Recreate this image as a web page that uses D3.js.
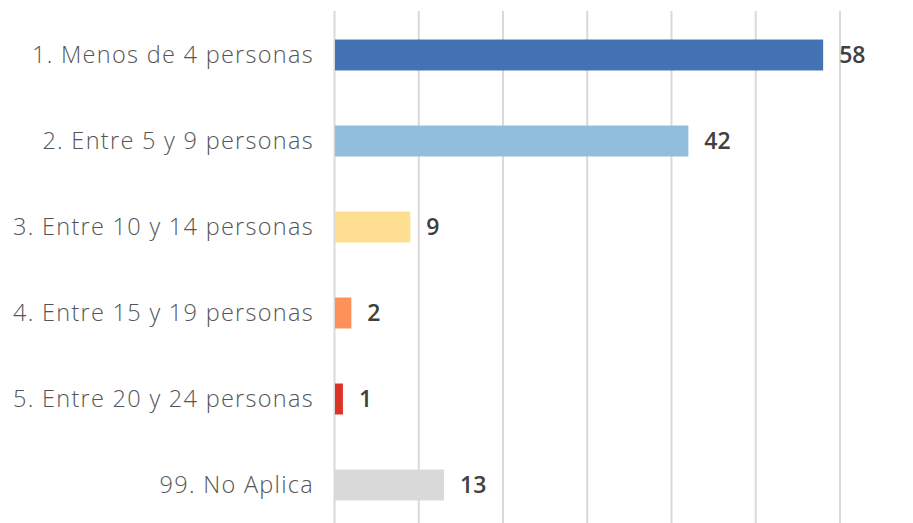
<!DOCTYPE html>
<html>
<head>
  <meta charset="UTF-8">
  <style>
    body { margin: 0; background: #fff; }
    svg { display: block; }
  </style>
</head>
<body>
  <script src="https://d3js.org/d3.v7.min.js"></script>
  <script>
    var categorias = ["1. Menos de 4 personas", "2. Entre 5 y 9 personas", "3. Entre 10 y 14 personas",
                      "4. Entre 15 y 19 personas", "5. Entre 20 y 24 personas", "99. No Aplica"];
    var valores = [58, 42, 9, 2, 1, 13];
    var colores = ["#4473b4", "#91bedc", "#fedf91", "#fc9159", "#dc3327", "#d9d9d9"];
    var ticks = [0, 10, 20, 30, 40, 50, 60];

    var width = 913, height = 523;

    var svg = d3.select("body").append("svg")
      .attr("width", width)
      .attr("height", height);

    var x = d3.scaleLinear().domain([0, 60]).range([334.5, 840]);
    var y = d3.scaleBand().domain(categorias).range([12, 528])
      .paddingInner(0.64).paddingOuter(0.32);

    // lineas de cuadricula
    svg.append("g")
      .selectAll("line")
      .data(ticks)
      .join("line")
      .attr("x1", d => x(d)).attr("x2", d => x(d))
      .attr("y1", 11).attr("y2", height)
      .attr("stroke", "#d9d9d9")
      .attr("stroke-width", 2);

    svg.append("g")
      .selectAll("rect")
      .data(valores)
      .join("rect")
      .attr("x", x(0) + 0.5)
      .attr("y", (d, i) => y(categorias[i]))
      .attr("width", d => x(d) - x(0) - 0.5)
      .attr("height", y.bandwidth())
      .attr("fill", (d, i) => colores[i]);

    // etiquetas de categoria
    var etiquetas = svg.append("g")
      .selectAll("text")
      .data(categorias)
      .join("text")
      .attr("x", 314)
      .attr("y", d => y(d) + y.bandwidth() / 2)
      .attr("dy", "0.36em")
      .attr("text-anchor", "end")
      .style("font-family", "'Open Sans', sans-serif")
      .style("font-weight", 300)
      .style("font-size", "23.5px")
      .style("fill", "#555")
      .text(d => d);

    // ajustar al ancho de la referencia (5. Entre 20 y 24 personas ~ 301px)
    var ancho = etiquetas.nodes()[4].getComputedTextLength();
    var ls = (301 - ancho) / categorias[4].length;
    etiquetas.style("letter-spacing", ls + "px");

    // valores
    svg.append("g")
      .selectAll("text")
      .data(valores)
      .join("text")
      .attr("x", d => x(d) + 16)
      .attr("y", (d, i) => y(categorias[i]) + y.bandwidth() / 2)
      .attr("dy", "0.36em")
      .style("font-family", "'Open Sans', sans-serif")
      .style("font-weight", 600)
      .style("font-size", "23px")
      .style("fill", "#404040")
      .text(d => d);
  </script>
</body>
</html>
